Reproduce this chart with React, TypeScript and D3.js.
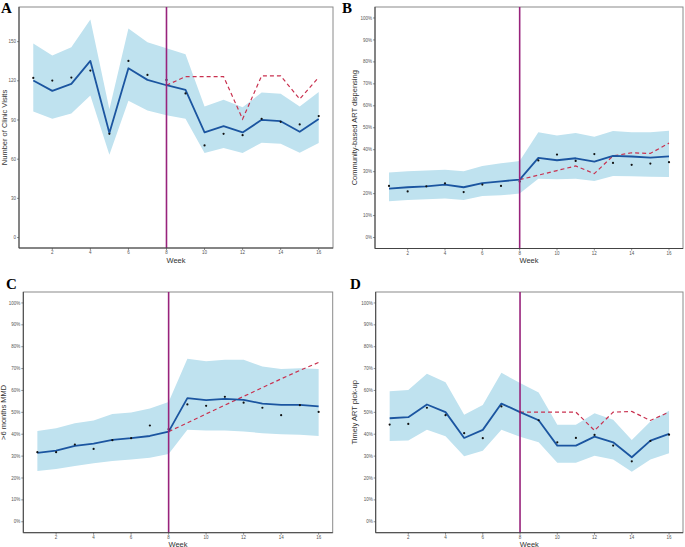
import React from "react";
import * as d3 from "d3";

const weeks = [1, 2, 3, 4, 5, 6, 7, 8, 9, 10, 11, 12, 13, 14, 15, 16];
const cfWeeks = [8, 9, 10, 11, 12, 13, 14, 15, 16];
const xTicks = [2, 4, 6, 8, 10, 12, 14, 16];
const countTicks = [0, 30, 60, 90, 120, 150];
const pctTicks = [0, 10, 20, 30, 40, 50, 60, 70, 80, 90, 100];

// Panel A: Number of clinic visits
const aFit = [120.2, 112.3, 117.6, 135.2, 80, 129.6, 120.7, 116.6, 113, 80.5, 85.3, 80.5, 90.1, 89.1, 81, 90.7];
const aObs = [122.2, 120.2, 122.5, 127.8, 79.4, 135.2, 124.5, 120.7, 110.3, 70.5, 79.4, 78.4, 90.9, 88.6, 86.6, 93];
const aUpper = [148.5, 139.3, 145.7, 167, 98.3, 160, 149.5, 144.9, 140.3, 100.3, 105.4, 99.8, 111, 110, 100.3, 111.5];
const aLower = [96.5, 90.9, 95, 108.7, 63.4, 104.7, 97.3, 93.7, 90.9, 64.7, 68.5, 64.7, 72.6, 71.8, 65, 72.3];
const aCf = [116.6, 123.2, 123.2, 123.2, 90.7, 123.8, 123.8, 106, 122.7];

// Panel B: Community-based ART dispensing (%)
const bFit = [22.3, 22.9, 23.3, 24.1, 22.9, 24.8, 25.6, 26.4, 36.3, 35.2, 36.1, 34.6, 37.2, 36.9, 36.4, 37.0];
const bObs = [23.5, 21.0, 23.3, 24.7, 20.7, 24.1, 23.5, 25.5, 35.1, 37.8, 34.9, 38, 34, 33.1, 33.7, 34.3];
const bUpper = [29.6, 30.2, 30.5, 30.9, 30.2, 32.6, 33.8, 34.8, 47.9, 46.5, 47.6, 45.9, 48.5, 48, 47.9, 48.6];
const bLower = [16.5, 17.1, 17.4, 17.8, 17.1, 18.9, 19.2, 20.1, 26.8, 26.5, 26.8, 25.8, 28.0, 27.9, 27.7, 27.6];
const bCf = [26.4, 28.4, 30.5, 32.6, 29.1, 37.2, 38.6, 38.3, 43];

// Panel C: >6 months MMD (%)
const cFit = [31.5, 32.5, 34.7, 35.7, 37.4, 38.2, 39.2, 41.2, 56.5, 55.6, 56.2, 55.7, 54, 53.4, 53.4, 52.7];
const cObs = [31.8, 31.8, 35.3, 33.3, 37.3, 38.2, 44, 42.3, 53.6, 53, 57.1, 54.4, 52.1, 48.7, 53.3, 50.2];
const cUpper = [41.5, 42.7, 45, 46.3, 49.2, 49.9, 51.8, 54.7, 74.5, 73.3, 74, 74, 71, 69.8, 70.1, 69.8];
const cLower = [23.2, 24.1, 25.5, 26.7, 27.8, 28.5, 29.3, 31, 42, 41.7, 41.7, 41.2, 40.5, 40, 39.8, 39.2];
const cCf = [41.2, 45.2, 49.3, 53.3, 57.3, 61.3, 65.3, 69.2, 72.8];

// Panel D: Timely ART pick-up (%)
const dFit = [47.3, 47.8, 53.6, 50.1, 38.3, 42, 54, 50.1, 46.4, 34.8, 34.8, 38.9, 36.3, 29.5, 37.1, 40.2];
const dObs = [44.4, 44.7, 52.1, 48.7, 40.5, 38.2, 52.7, 50.1, 46.4, 36.3, 38.3, 39.7, 34.8, 27.6, 36.9, 39.8];
const dUpper = [59.7, 60.2, 67.6, 63.7, 48.9, 53.4, 68.1, 63.4, 59.1, 44.3, 44.3, 49.6, 46.6, 37.4, 45.8, 50.7];
const dLower = [36.9, 37.1, 42, 39.1, 29.9, 32.4, 42, 38.9, 36.3, 27, 27, 30.2, 28.5, 22.9, 28.5, 31.3];
const dCf = [50.1, 50.1, 50.1, 50.1, 41.7, 50.1, 50.4, 46.3, 50.1];

type PanelProps = {
  letter: string;
  letterX: number;
  letterY: number;
  left: number;
  top: number;
  right: number;
  bottom: number;
  yDomain: [number, number];
  yTicks: number[];
  pct: boolean;
  yLabel: string;
  yLabelX: number;
  weekY: number;
  fit: number[];
  obs: number[];
  upper: number[];
  lower: number[];
  cf: number[];
};

const FILL = "#bfe2ef";
const BLUE = "#1b55a0";
const PURPLE = "#98237c";
const RED = "#c9314f";

function Panel(p: PanelProps) {
  const x = d3.scaleLinear().domain([0.25, 16.75]).range([p.left, p.right]);
  const y = d3.scaleLinear().domain(p.yDomain).range([p.bottom, p.top]);
  const area = d3
    .area<number>()
    .x((_, i) => x(weeks[i]))
    .y0((_, i) => y(p.lower[i]))
    .y1((_, i) => y(p.upper[i]));
  const line = d3
    .line<number>()
    .x((_, i) => x(weeks[i]))
    .y((d) => y(d));
  const cfLine = d3
    .line<number>()
    .x((_, i) => x(cfWeeks[i]))
    .y((d) => y(d));
  const fontFam = "Liberation Sans, Arial, sans-serif";
  const cy = (p.top + p.bottom) / 2;
  return (
    <g>
      <text
        x={p.letterX}
        y={p.letterY}
        fontFamily="Liberation Serif, Times New Roman, serif"
        fontWeight="bold"
        fontSize={15}
        fill="#000"
      >
        {p.letter}
      </text>
      <rect
        x={p.left}
        y={p.top}
        width={p.right - p.left}
        height={p.bottom - p.top}
        fill="#fff"
        stroke="#8a8a8a"
        strokeWidth={1}
      />
      <path d={area(p.upper) || ""} fill={FILL} stroke="none" />
      <path d={cfLine(p.cf) || ""} fill="none" stroke={RED} strokeWidth={1.2} strokeDasharray="4,3" />
      <path d={line(p.fit) || ""} fill="none" stroke={BLUE} strokeWidth={1.8} strokeLinejoin="round" />
      {p.obs.map((v, i) => (
        <circle key={i} cx={x(weeks[i])} cy={y(v)} r={1.1} fill="#111" />
      ))}
      <line x1={x(8)} x2={x(8)} y1={p.top} y2={p.bottom} stroke={PURPLE} strokeWidth={1.6} />
      <line x1={p.left} x2={p.left} y1={p.top} y2={p.bottom} stroke="#444" strokeWidth={1} />
      <line x1={p.left} x2={p.right} y1={p.bottom} y2={p.bottom} stroke="#444" strokeWidth={1} />
      {p.yTicks.map((t) => (
        <g key={t}>
          <line x1={p.left - 2} x2={p.left} y1={y(t)} y2={y(t)} stroke="#444" strokeWidth={0.6} />
          <text
            x={p.left - 3}
            y={y(t)}
            dy="0.35em"
            textAnchor="end"
            fontFamily={fontFam}
            fontSize={4.5}
            fill="#555"
          >
            {p.pct ? `${t}%` : t}
          </text>
        </g>
      ))}
      {xTicks.map((t) => (
        <g key={t}>
          <line x1={x(t)} x2={x(t)} y1={p.bottom} y2={p.bottom + 2} stroke="#444" strokeWidth={0.6} />
          <text
            x={x(t)}
            y={p.bottom + 6.3}
            textAnchor="middle"
            fontFamily={fontFam}
            fontSize={4.5}
            fill="#555"
          >
            {t}
          </text>
        </g>
      ))}
      <text
        x={x(8.5)}
        y={p.weekY}
        textAnchor="middle"
        fontFamily={fontFam}
        fontSize={7.5}
        fill="#333"
      >
        Week
      </text>
      <text
        transform={`translate(${p.yLabelX},${cy}) rotate(-90)`}
        textAnchor="middle"
        fontFamily={fontFam}
        fontSize={7.5}
        fill="#333"
      >
        {p.yLabel}
      </text>
    </g>
  );
}

export default function App() {
  return (
    <div style={{ position: "fixed", left: 0, top: 0 }}>
      <svg width={685} height={547} style={{ display: "block", background: "#fff" }}>
        <Panel
          letter="A"
          letterX={1}
          letterY={13}
          left={19}
          top={7}
          right={333}
          bottom={248}
          yDomain={[-8, 176.5]}
          yTicks={countTicks}
          pct={false}
          yLabel="Number of Clinic Visits"
          yLabelX={7}
          weekY={262.5}
          fit={aFit}
          obs={aObs}
          upper={aUpper}
          lower={aLower}
          cf={aCf}
        />
        <Panel
          letter="B"
          letterX={342}
          letterY={13}
          left={375}
          top={7}
          right={683}
          bottom={248.5}
          yDomain={[-5, 105]}
          yTicks={pctTicks}
          pct={true}
          yLabel="Community-based ART dispensing"
          yLabelX={357}
          weekY={262.5}
          fit={bFit}
          obs={bObs}
          upper={bUpper}
          lower={bLower}
          cf={bCf}
        />
        <Panel
          letter="C"
          letterX={6}
          letterY={289}
          left={23.3}
          top={292}
          right={332.7}
          bottom={532.7}
          yDomain={[-5, 105]}
          yTicks={pctTicks}
          pct={true}
          yLabel=">6 months MMD"
          yLabelX={6}
          weekY={546.5}
          fit={cFit}
          obs={cObs}
          upper={cUpper}
          lower={cLower}
          cf={cCf}
        />
        <Panel
          letter="D"
          letterX={350}
          letterY={289}
          left={375.7}
          top={292}
          right={683}
          bottom={532.7}
          yDomain={[-5, 105]}
          yTicks={pctTicks}
          pct={true}
          yLabel="Timely ART pick-up"
          yLabelX={357}
          weekY={546.5}
          fit={dFit}
          obs={dObs}
          upper={dUpper}
          lower={dLower}
          cf={dCf}
        />
      </svg>
    </div>
  );
}
